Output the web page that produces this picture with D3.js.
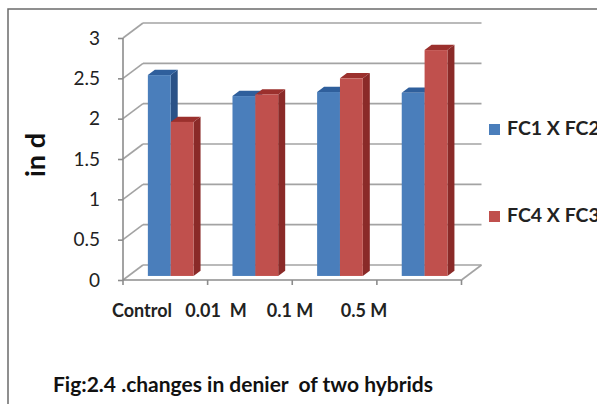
<!DOCTYPE html>
<html>
<head>
<meta charset="utf-8">
<script src="https://cdn.jsdelivr.net/npm/d3@7"></script>
<style>
  body { margin: 0; background: #fff; }
  svg { display: block; font-family: Lato, "Open Sans", sans-serif; }
  .grid line { stroke: #a3a3a3; stroke-width: 1.6; }
  .axis path, .axis line { stroke: #8c8c8c; stroke-width: 1.6; }
</style>
</head>
<body>
<svg width="597" height="404"></svg>
<script>
// data
const categories = ['Control', '0.01 M', '0.1 M', '0.5 M'];
const labels = ['Control', '0.01  M', '0.1 M', '0.5 M'];
const series = ['FC1 X FC2', 'FC4 X FC3'];
const fc1 = [2.49, 2.23, 2.28, 2.27];
const fc4 = [1.91, 2.25, 2.45, 2.80];
const yTicks = [0, 0.5, 1, 1.5, 2, 2.5, 3];

const colors = {
  'FC1 X FC2': { front: '#4a7ebb', top: '#2f5f9c', side: '#2a5287' },
  'FC4 X FC3': { front: '#c0504d', top: '#9b302d', side: '#8a2a28' }
};

const svg = d3.select('svg');

// frame
svg.append('path')
  .attr('d', 'M8,404 V9 H597')
  .attr('fill', 'none')
  .attr('stroke', '#6b6b6b')
  .attr('stroke-width', 1.5);

// front plane of the 3d plot
const plotL = 123, plotR = 461.5, plotT = 38, plotB = 280;
const DX = 20, DY = -15; // full depth offset

const x0 = d3.scaleBand().domain(categories).range([plotL, plotR]);
const x1 = d3.scaleBand().domain(series)
  .range([x0.bandwidth() * 0.23, x0.bandwidth() * 0.77]);
const y = d3.scaleLinear().domain([0, 3]).range([plotB, plotT]);

// back wall grid
const grid = svg.append('g').attr('class', 'grid');
grid.selectAll('line.h')
  .data(yTicks)
  .join('line')
  .attr('class', 'h')
  .attr('x1', plotL + DX).attr('x2', plotR + DX)
  .attr('y1', d => y(d) + DY).attr('y2', d => y(d) + DY);

// side wall diagonals
grid.selectAll('line.d')
  .data(yTicks)
  .join('line')
  .attr('class', 'd')
  .attr('x1', plotL).attr('x2', plotL + DX)
  .attr('y1', d => y(d)).attr('y2', d => y(d) + DY);

// floor right edge
grid.append('line')
  .attr('x1', plotR).attr('y1', y(0))
  .attr('x2', plotR + DX).attr('y2', y(0) + DY);

// bars
const f0 = 0.27, f1 = 0.62;
const rows = [];
categories.forEach((c, i) => {
  rows.push({ cat: c, s: series[0], v: fc1[i] });
  rows.push({ cat: c, s: series[1], v: fc4[i] });
});

const bars = svg.append('g').selectAll('g')
  .data(rows)
  .join('g');

bars.each(function (d) {
  const g = d3.select(this);
  const xl = x0(d.cat) + x1(d.s) + DX * f0;
  const xr = xl + x1.bandwidth();
  const yt = y(d.v) + DY * f0;
  const yb = y(0) + DY * f0;
  const ddx = DX * (f1 - f0), ddy = DY * (f1 - f0);
  g.append('path')
    .attr('fill', colors[d.s].side)
    .attr('d', `M${xr},${yt} L${xr + ddx},${yt + ddy} L${xr + ddx},${yb + ddy} L${xr},${yb} Z`);
  g.append('path')
    .attr('fill', colors[d.s].top)
    .attr('d', `M${xl},${yt} L${xr},${yt} L${xr + ddx},${yt + ddy} L${xl + ddx},${yt + ddy} Z`);
  g.append('rect')
    .attr('fill', colors[d.s].front)
    .attr('x', xl).attr('y', yt)
    .attr('width', x1.bandwidth())
    .attr('height', yb - yt);
});

// y axis
svg.append('g')
  .attr('class', 'axis')
  .attr('transform', `translate(${plotL},0)`)
  .call(d3.axisLeft(y).tickValues(yTicks).tickSize(5).tickPadding(18)
    .tickFormat(d3.format('')))
  .call(g => g.select('.domain').attr('d', `M0,${y(0)} V${y(3)}`))
  .selectAll('text')
  .attr('font-size', 19)
  .attr('fill', '#222')
  .attr('font-family', 'Lato, sans-serif');

// x axis (front floor edge)
const xa = svg.append('g').attr('class', 'axis');
xa.append('line')
  .attr('x1', plotL).attr('x2', plotR)
  .attr('y1', plotB).attr('y2', plotB);
xa.selectAll('line.t')
  .data(categories.concat(['end']))
  .join('line')
  .attr('class', 't')
  .attr('x1', (d, i) => plotL + i * x0.step())
  .attr('x2', (d, i) => plotL + i * x0.step())
  .attr('y1', plotB).attr('y2', plotB + 5);

// category labels (shifted left like the original)
const lx = d3.scalePoint().domain(categories).range([142, 364]);
svg.append('g').selectAll('text')
  .data(categories)
  .join('text')
  .attr('x', d => lx(d))
  .attr('y', 317)
  .attr('text-anchor', 'middle')
  .attr('font-size', 18)
  .attr('font-weight', 'bold')
  .attr('fill', '#222')
  .style('white-space', 'pre')
  .text((d, i) => labels[i]);

// y title
svg.append('text')
  .attr('transform', 'translate(45,155) rotate(-90)')
  .attr('text-anchor', 'middle')
  .attr('font-size', 27)
  .attr('font-weight', 'bold')
  .attr('fill', '#111')
  .text('in d');

// legend
const legend = svg.append('g').selectAll('g')
  .data(series)
  .join('g')
  .attr('transform', (d, i) => `translate(489,${124 + i * 87})`);
legend.append('rect')
  .attr('width', 11).attr('height', 11)
  .attr('fill', d => colors[d].front);
legend.append('text')
  .attr('x', 18).attr('y', 11)
  .attr('font-size', 19.5)
  .attr('font-weight', 'bold')
  .attr('fill', '#222')
  .text(d => d);

// caption
svg.append('text')
  .attr('x', 53)
  .attr('y', 392)
  .attr('font-size', 21)
  .attr('font-weight', 'bold')
  .attr('fill', '#111')
  .style('white-space', 'pre')
  .text('Fig:2.4 .changes in denier  of two hybrids');
</script>
</body>
</html>
